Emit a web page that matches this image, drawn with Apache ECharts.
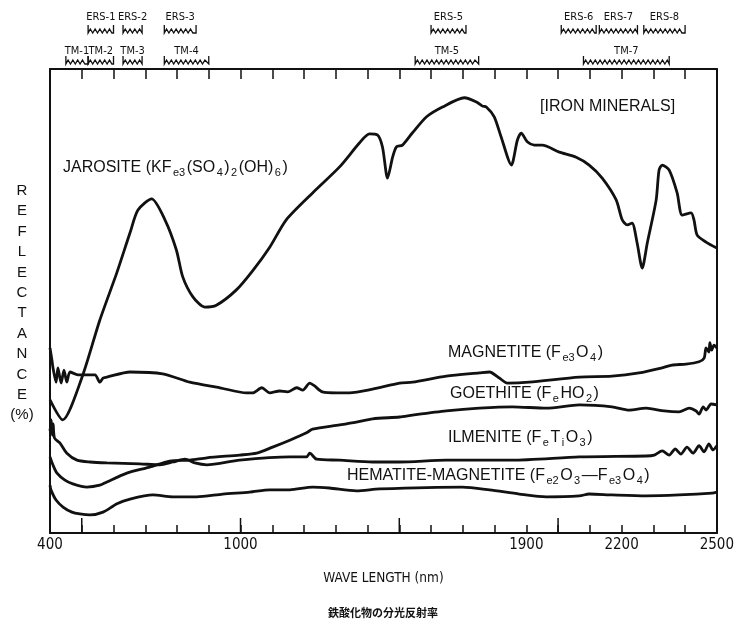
<!DOCTYPE html>
<html><head><meta charset="utf-8">
<script src="https://cdn.jsdelivr.net/npm/echarts@6/dist/echarts.min.js"></script>
<style>html,body{margin:0;padding:0;background:#fff}#c{width:737px;height:628px}</style>
</head><body><div id="c"></div>
<script>
// ---- axis ticks / labels ----
const xTickLabels = [400, 1000, 1900, 2200, 2500];
const xMajorTicks = [500, 1000, 1500, 2000];

// ---- sensor bands (nm) ----
const tmBands = [['TM-1',450,520],['TM-2',520,600],['TM-3',630,690],['TM-4',760,900],['TM-5',1550,1750],['TM-7',2080,2350]];
const ersBands = [['ERS-1',520,600],['ERS-2',630,690],['ERS-3',760,860],['ERS-5',1600,1710],['ERS-6',2010,2120],['ERS-7',2130,2250],['ERS-8',2270,2400]];

// ---- spectra: [wavelength nm, relative reflectance] ----
const jarosite = [[400,28.7],[440,24.4],[500,33.4],[557,45.9],[610,56.0],[652,64.7],[677,69.6],[720,72.0],[762,67.5],[798,61.0],[818,55.2],[850,50.9],[887,48.7],[924,49.1],[987,52.4],[1038,56.5],[1092,61.6],[1144,67.5],[1227,73.3],[1312,78.9],[1375,84.1],[1406,86.0],[1431,85.8],[1447,83.2],[1463,76.5],[1479,81.0],[1491,83.2],[1510,83.6],[1541,86.2],[1586,89.7],[1636,91.8],[1705,93.8],[1743,92.9],[1762,92.0],[1774,91.8],[1799,89.7],[1821,85.3],[1853,79.3],[1872,84.7],[1884,86.2],[1903,84.3],[1925,83.6],[1950,83.6],[2004,82.1],[2057,81.0],[2098,79.3],[2139,76.5],[2183,71.8],[2202,67.5],[2218,66.4],[2233,66.8],[2249,62.5],[2265,57.1],[2281,62.5],[2309,71.8],[2318,78.2],[2328,79.3],[2350,78.2],[2375,73.3],[2391,68.5],[2419,69.0],[2428,67.5],[2438,64.2],[2466,62.7],[2500,61.4]];
const magnetite = [[400,39.9],[406,37.3],[409,35.8],[419,32.5],[425,35.6],[435,32.3],[444,35.1],[453,32.5],[463,34.7],[488,34.1],[526,34.1],[542,34.1],[557,32.5],[567,33.4],[579,33.6],[652,34.7],[755,34.3],[840,32.5],[935,31.3],[1019,30.2],[1038,30.2],[1067,31.3],[1092,30.2],[1123,30.6],[1148,30.4],[1177,31.3],[1196,30.8],[1218,32.3],[1233,31.7],[1258,30.4],[1303,30.2],[1343,30.2],[1416,31.0],[1501,32.3],[1542,32.5],[1648,33.8],[1752,34.5],[1784,34.7],[1815,33.4],[1840,32.3],[1909,32.5],[2067,33.6],[2170,33.8],[2255,34.5],[2328,35.6],[2359,36.2],[2403,36.4],[2444,36.9],[2460,37.7],[2466,39.9],[2475,39.0],[2478,41.0],[2484,39.4],[2491,40.5],[2500,39.9]];
const goethite = [[400,16.4],[409,14.7],[422,12.9],[447,11.4],[472,10.6],[516,9.9],[557,10.3],[579,11.0],[642,12.9],[714,14.2],[777,15.5],[840,15.7],[894,16.2],[997,16.8],[1051,17.2],[1101,18.5],[1155,20.0],[1208,21.6],[1227,22.4],[1312,23.3],[1365,23.9],[1416,24.6],[1501,25.0],[1542,25.4],[1648,26.3],[1752,26.9],[1856,27.2],[1963,26.9],[2067,27.6],[2170,27.2],[2224,26.5],[2277,26.9],[2334,26.3],[2381,26.1],[2413,26.9],[2435,26.3],[2444,25.6],[2457,27.2],[2466,26.5],[2482,27.8],[2500,27.6]];
const ilmenite = [[400,22.0],[404,24.4],[407,21.1],[410,23.5],[414,20.5],[431,19.4],[453,17.2],[485,15.7],[526,15.3],[579,15.1],[683,14.9],[746,14.7],[787,15.3],[825,15.9],[856,15.1],[894,14.7],[997,15.7],[1155,16.4],[1208,16.4],[1218,17.2],[1240,15.9],[1312,15.7],[1416,15.3],[1501,15.3],[1648,15.7],[1856,15.7],[2067,16.4],[2277,16.6],[2303,16.8],[2328,17.7],[2350,16.8],[2369,18.1],[2387,17.0],[2406,18.5],[2425,17.2],[2444,18.8],[2460,17.5],[2475,19.2],[2488,17.9],[2500,18.8]];
const hematiteMagnetite = [[400,10.3],[403,9.3],[419,7.1],[441,5.6],[469,4.5],[494,4.1],[526,3.9],[567,4.5],[611,6.3],[652,7.3],[724,8.2],[787,7.8],[862,7.8],[944,8.4],[1029,8.8],[1092,9.3],[1155,9.3],[1227,9.9],[1280,9.7],[1365,9.1],[1438,9.5],[1699,9.9],[1784,9.3],[1878,8.4],[1963,7.8],[2067,8.0],[2098,8.4],[2170,8.2],[2277,8.0],[2381,8.2],[2485,8.6],[2500,8.8]];

const FONT = '"DejaVu Sans Condensed","Liberation Sans Narrow","DejaVu Sans",sans-serif';
const LFONT = '"Liberation Sans",Arial,sans-serif';
const INK = '#111';

function bandSeries(bands, barOffset, labelOffset) {
  return {
    type: 'custom', xAxisIndex: 0, yAxisIndex: 0, clip: false, silent: true,
    data: bands.map(b => [b[1], b[2]]),
    encode: { x: [0, 1] },
    renderItem: function (params, api) {
      const x1 = api.coord([api.value(0), 0])[0];
      const x2 = api.coord([api.value(1), 0])[0];
      const yb = params.coordSys.y - barOffset;
      const pts = [[x1, yb - 8], [x1, yb]];
      let up = true;
      for (let x = x1 + 2.2; x < x2 - 1.5; x += 2.4) { pts.push([x, up ? yb - 4 : yb]); up = !up; }
      pts.push([x2, yb]); pts.push([x2, yb - 8]);
      return { type: 'group', children: [
        { type: 'polyline', shape: { points: pts }, style: { stroke: INK, lineWidth: 1.3, fill: null } },
        { type: 'text', style: { text: bands[params.dataIndex][0], x: (x1 + x2) / 2, y: params.coordSys.y - labelOffset,
          align: 'center', verticalAlign: 'middle', font: '11px ' + FONT, fill: INK } }
      ]};
    }
  };
}

const majorTickSeries = {
  type: 'custom', xAxisIndex: 0, yAxisIndex: 0, clip: false, silent: true,
  data: xMajorTicks.map(v => [v]),
  encode: { x: 0 },
  renderItem: function (params, api) {
    const x = api.coord([api.value(0), 0])[0];
    const y0 = params.coordSys.y + params.coordSys.height;
    return { type: 'line', shape: { x1: x, y1: y0, x2: x, y2: y0 - 15 }, style: { stroke: INK, lineWidth: 1.5 } };
  }
};

function curve(name, data) {
  return { name: name, type: 'line', data: data, smooth: 0.25, symbol: 'none', silent: true,
    lineStyle: { color: INK, width: 2.8 } };
}

const sub = { fontSize: 11, fontFamily: LFONT, verticalAlign: 'bottom', lineHeight: 21, color: INK, padding: [0, 1.5, 0, 1.5] };
function label(x, y, text) {
  return { type: 'text', x: x, y: y, silent: true,
    style: { text: text, fill: INK, font: '16px ' + LFONT, verticalAlign: 'middle', rich: { s: sub } } };
}

const chart = echarts.init(document.getElementById('c'), null, { renderer: 'canvas' });
chart.setOption({
  animation: false,
  backgroundColor: '#fff',
  grid: { left: 50, right: 19, top: 69, bottom: 95 },
  xAxis: [
    { type: 'value', position: 'bottom', min: 400, max: 2500, interval: 100,
      axisLine: { onZero: false, lineStyle: { color: INK, width: 2 } },
      axisTick: { inside: true, length: 8, lineStyle: { color: INK, width: 1.5 } },
      axisLabel: { customValues: xTickLabels, formatter: v => String(v), color: INK, fontSize: 15, fontFamily: FONT, margin: 5 },
      splitLine: { show: false },
      name: 'WAVE LENGTH (nm)', nameLocation: 'middle', nameGap: 38,
      nameTextStyle: { color: INK, fontSize: 13.5, fontFamily: FONT } },
    { type: 'value', position: 'top', min: 400, max: 2500, interval: 100,
      axisLine: { onZero: false, lineStyle: { color: INK, width: 2 } },
      axisTick: { inside: true, length: 10, lineStyle: { color: INK, width: 1.5 } },
      axisLabel: { show: false }, splitLine: { show: false } }
  ],
  yAxis: [
    { type: 'value', position: 'left', min: 0, max: 100,
      axisLine: { show: true, onZero: false, lineStyle: { color: INK, width: 2 } },
      axisTick: { show: false }, axisLabel: { show: false }, splitLine: { show: false } },
    { type: 'value', position: 'right', min: 0, max: 100,
      axisLine: { show: true, onZero: false, lineStyle: { color: INK, width: 2 } },
      axisTick: { show: false }, axisLabel: { show: false }, splitLine: { show: false } }
  ],
  series: [
    curve('JAROSITE', jarosite),
    curve('MAGNETITE', magnetite),
    curve('GOETHITE', goethite),
    curve('ILMENITE', ilmenite),
    curve('HEMATITE-MAGNETITE', hematiteMagnetite),
    majorTickSeries,
    bandSeries(ersBands, 36, 52),
    bandSeries(tmBands, 5, 18)
  ],
  graphic: [
    { type: 'text', x: 22, y: 303, silent: true,
      style: { text: 'R\nE\nF\nL\nE\nC\nT\nA\nN\nC\nE\n(%)', align: 'center', verticalAlign: 'middle',
        lineHeight: 20.4, font: '15px ' + LFONT, fill: INK } },
    label(63, 168, 'JAROSITE (KF{s|e3}(SO{s|4}){s|2}(OH){s|6})'),
    label(540, 107, '[IRON MINERALS]'),
    label(448, 353, 'MAGNETITE (F{s|e3}O{s|4})'),
    label(450, 394, 'GOETHITE (F{s|e}HO{s|2})'),
    label(448, 438, 'ILMENITE (F{s|e}T{s|i}O{s|3})'),
    label(347, 476, 'HEMATITE-MAGNETITE (F{s|e2}O{s|3}\u2014F{s|e3}O{s|4})'),
    { type: 'text', x: 383, y: 613, silent: true,
      style: { text: '鉄酸化物の分光反射率', align: 'center', verticalAlign: 'middle',
        font: 'bold 11px "Noto Sans CJK JP", sans-serif', fill: INK } }
  ]
});
</script></body></html>
